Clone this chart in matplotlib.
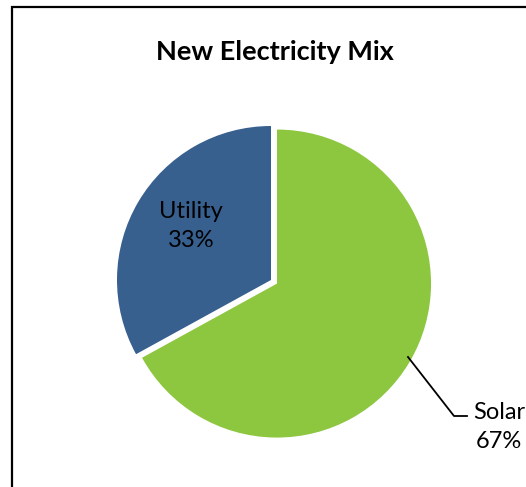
import matplotlib
matplotlib.use("Agg")
import matplotlib.pyplot as plt
from matplotlib.patches import Rectangle

# chart data
labels = ["Solar", "Utility"]
shares = [67, 33]
colors = ["#8DC63F", "#37608F"]

plt.rcParams['font.family'] = ['Lato', 'DejaVu Sans']

W, H = 526, 487
fig = plt.figure(figsize=(W / 100, H / 100), dpi=100)
ax = fig.add_axes([0, 0, 1, 1])

# chart frame (runs off the right and bottom edge)
fig.patches.append(Rectangle((12 / W, -0.1), 1.2, 1 - 7 / H + 0.1,
                             transform=fig.transFigure, fill=False,
                             edgecolor="black", linewidth=1.6))

# explode is in data units here (pixels)
ax.pie(shares, colors=colors, startangle=90, counterclock=False,
       explode=[7, 0], center=(271, H - 280), radius=154,
       wedgeprops=dict(linewidth=0))

ax.set_xlim(0, W)
ax.set_ylim(0, H)
ax.set_aspect("equal")
ax.axis("off")

ax.text(275, H - 52, "New Electricity Mix", ha="center", va="center",
        fontsize=19.5, fontweight="bold")

ax.text(191, H - 226, f"{labels[1]}\n{shares[1]}%", ha="center", va="center",
        fontsize=17, linespacing=1.45)
ax.text(499, H - 427, f"{labels[0]}\n{shares[0]}%", ha="center", va="center",
        fontsize=17, linespacing=1.45)

# leader line to the Solar label
ax.plot([408, 454, 467], [H - 357, H - 416, H - 416], color="black", lw=1.3)

fig.savefig("out.png", dpi=100)
